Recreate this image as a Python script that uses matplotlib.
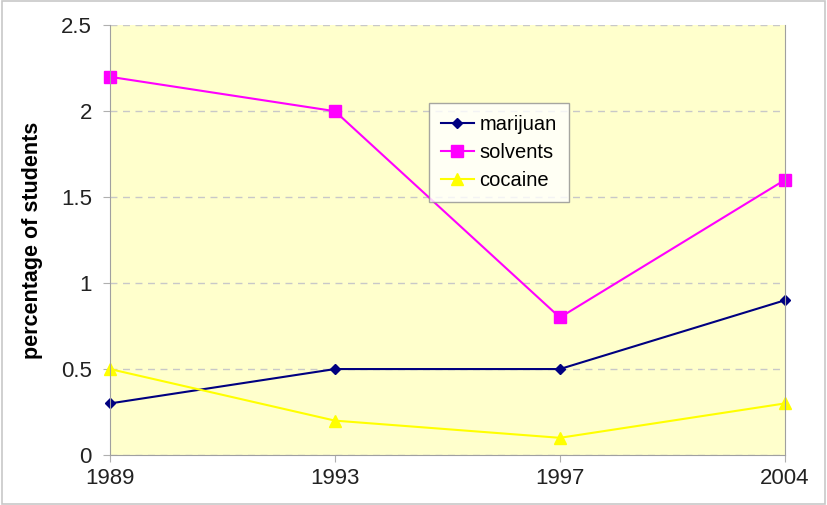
import matplotlib
matplotlib.use("Agg")
import matplotlib.pyplot as plt
from matplotlib.patches import Rectangle

years = ["1989", "1993", "1997", "2004"]
marijuan = [0.3, 0.5, 0.5, 0.9]
solvents = [2.2, 2.0, 0.8, 1.6]
cocaine = [0.5, 0.2, 0.1, 0.3]

plt.rcParams['font.family'] = ['Liberation Sans', 'DejaVu Sans']

fig = plt.figure(figsize=(8.27, 5.05), dpi=100)
fig.patches.append(Rectangle((0.002, 0.002), 0.996, 0.996, transform=fig.transFigure,
                             fill=False, edgecolor='#c8c8c8', lw=1.2))
ax = fig.add_axes([0.133, 0.099, 0.816, 0.851])
ax.set_facecolor('#ffffcc')

x = range(len(years))
ax.plot(x, marijuan, color='#000080', marker='D', markersize=5, lw=1.5, label='marijuan', clip_on=False)
ax.plot(x, solvents, color='#ff00ff', marker='s', markersize=8, lw=1.5, label='solvents', clip_on=False)
ax.plot(x, cocaine, color='#ffff00', marker='^', markersize=9, lw=1.5, label='cocaine', clip_on=False)

ax.set_xlim(0, 3)
ax.set_ylim(0, 2.5)
ax.set_xticks(list(x))
ax.set_xticklabels(years)
ax.set_yticks([0, 0.5, 1, 1.5, 2, 2.5])
ax.set_yticklabels(['0', '0.5', '1', '1.5', '2', '2.5'])
ax.yaxis.grid(True, color='#c8c8c8', linestyle=(0, (5, 4)), lw=1)
ax.set_axisbelow(True)
for s in ['left', 'bottom', 'right']:
    ax.spines[s].set_color('#a0a0a0')
ax.spines['top'].set_visible(False)
ax.tick_params(colors='#b0b0b0', labelcolor='#222222', labelsize=16, length=5)
ax.tick_params(axis='x', pad=4)
ax.tick_params(axis='y', pad=8)
ax.set_ylabel('percentage of students', fontsize=15.5, fontweight='bold', labelpad=13)

leg = ax.legend(loc='upper left', bbox_to_anchor=(0.519, 0.796), bbox_transform=fig.transFigure,
                fontsize=14.5, frameon=True, fancybox=False, edgecolor='#909090',
                handlelength=1.6, handletextpad=0.3, borderpad=0.6, labelspacing=0.45,
                borderaxespad=0)
leg.get_frame().set_facecolor('white')
leg.get_frame().set_linewidth(1)

fig.savefig('out.png', dpi=100)
